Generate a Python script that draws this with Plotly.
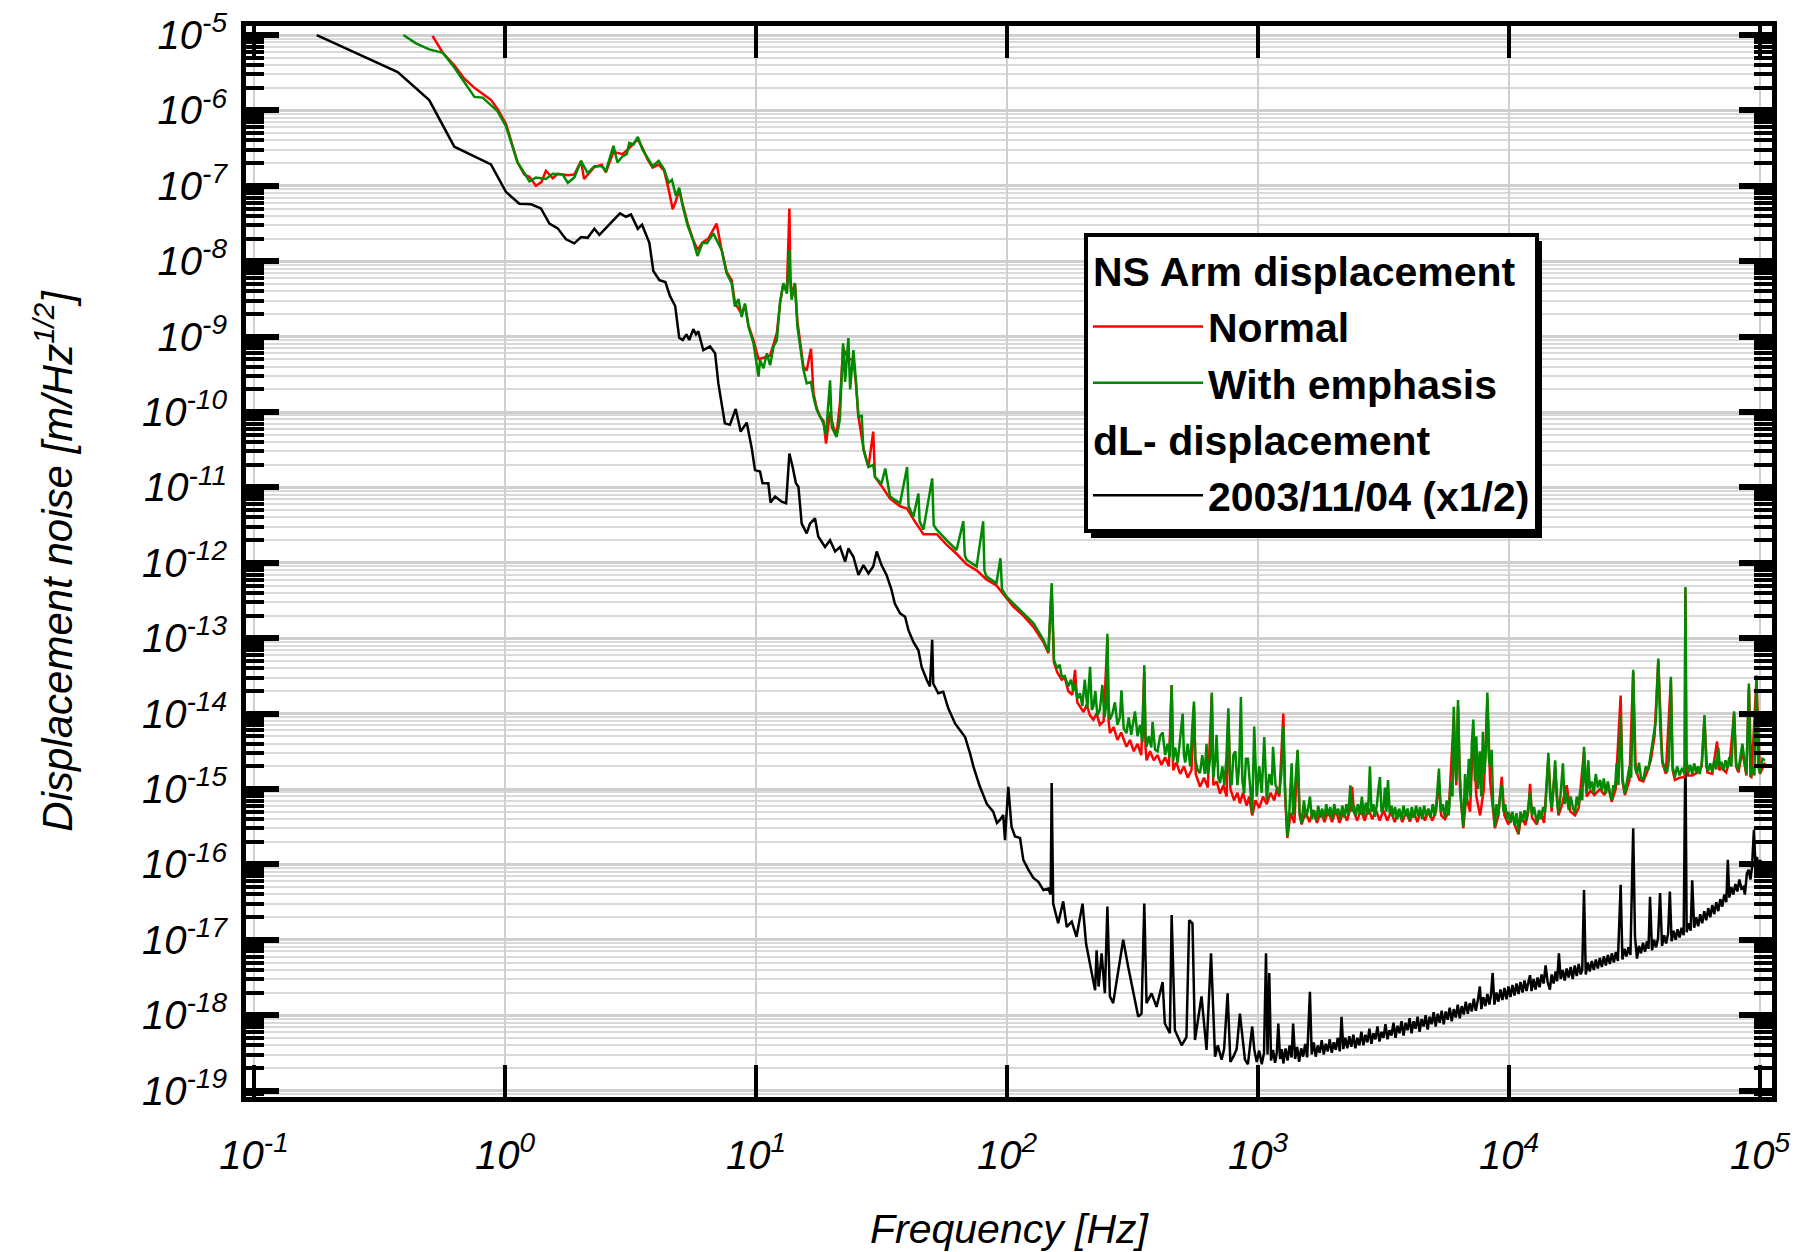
import plotly.graph_objects as go

# ---------------- data: (log10 frequency [Hz], log10 displacement) ----------------
# dL- displacement 2003/11/04 (x1/2)
black_points = [
    (-0.75, -5.0), (-0.4275, -5.49), (-0.302, -5.862), (-0.202, -6.481), (-0.056, -6.715),
    (0.004, -7.082), (0.057, -7.237), (0.104, -7.245), (0.143, -7.30), (0.177, -7.50),
    (0.21, -7.564), (0.243, -7.71), (0.276, -7.763), (0.303, -7.68), (0.329, -7.69),
    (0.356, -7.57), (0.376, -7.65), (0.409, -7.53), (0.458, -7.365), (0.482, -7.41),
    (0.502, -7.38), (0.529, -7.57), (0.546, -7.515), (0.575, -7.755), (0.591, -8.13),
    (0.615, -8.25), (0.639, -8.276), (0.657, -8.46), (0.678, -8.594), (0.694, -9.015),
    (0.708, -9.045), (0.723, -8.97), (0.734, -9.045), (0.750, -8.90), (0.761, -8.97),
    (0.770, -8.93), (0.79, -9.18), (0.817, -9.13), (0.837, -9.22), (0.85, -9.62),
    (0.876, -10.15), (0.896, -10.17), (0.919, -9.96), (0.939, -10.26), (0.963, -10.14),
    (0.983, -10.48), (0.996, -10.77), (1.016, -10.79), (1.026, -10.945), (1.049, -10.945),
    (1.058, -11.2), (1.076, -11.12), (1.102, -11.19), (1.12, -11.21), (1.133, -10.55),
    (1.146, -10.73), (1.159, -10.945), (1.169, -10.99), (1.182, -11.48), (1.202, -11.61),
    (1.215, -11.48), (1.235, -11.41), (1.248, -11.65), (1.275, -11.79), (1.295, -11.70),
    (1.315, -11.85), (1.335, -11.79), (1.355, -11.985), (1.368, -11.81), (1.388, -11.92),
    (1.408, -12.16), (1.428, -12.03), (1.448, -12.14), (1.467, -12.05), (1.481, -11.85),
    (1.50, -12.03), (1.52, -12.16), (1.54, -12.36), (1.553, -12.54), (1.574, -12.67),
    (1.594, -12.715), (1.607, -12.89), (1.627, -13.05), (1.647, -13.16), (1.66, -13.38),
    (1.68, -13.55), (1.693, -13.64), (1.702, -13.02), (1.706, -13.6), (1.726, -13.73),
    (1.746, -13.71), (1.766, -13.93), (1.793, -14.13), (1.813, -14.22), (1.833, -14.31),
    (1.853, -14.53), (1.866, -14.70), (1.89, -14.95), (1.92, -15.2), (1.945, -15.3),
    (1.96, -15.45), (1.972, -15.41), (1.985, -15.345), (1.992, -15.68), (2.005, -14.97),
    (2.018, -15.5), (2.032, -15.63), (2.052, -15.65), (2.065, -15.94), (2.085, -16.07),
    (2.105, -16.18), (2.125, -16.23), (2.145, -16.34), (2.165, -16.32), (2.174, -16.40),
    (2.178, -14.92), (2.184, -16.52), (2.204, -16.78), (2.224, -16.49), (2.238, -16.83),
    (2.258, -16.76), (2.277, -16.96), (2.301, -16.52), (2.315, -17.05), (2.331, -17.34),
    (2.351, -17.67), (2.357, -17.14), (2.365, -17.62), (2.377, -17.18), (2.39, -17.71),
    (2.40, -16.56), (2.41, -17.75), (2.423, -17.84), (2.443, -17.40), (2.463, -17.0),
    (2.483, -17.36), (2.503, -17.71), (2.523, -18.02), (2.536, -17.98), (2.547, -16.52),
    (2.556, -17.84), (2.576, -17.71), (2.596, -17.89), (2.62, -17.56), (2.629, -18.11),
    (2.649, -18.24), (2.656, -16.67), (2.669, -18.20), (2.696, -18.40), (2.715, -18.29),
    (2.726, -16.74), (2.739, -16.78), (2.749, -18.33), (2.775, -17.75), (2.795, -18.46),
    (2.813, -17.18), (2.829, -18.55), (2.84, -18.40), (2.855, -18.59), (2.865, -18.45),
    (2.879, -17.71), (2.89, -18.62), (2.902, -18.55), (2.915, -18.45), (2.928, -17.98),
    (2.94, -18.40), (2.948, -18.59), (2.96, -18.65), (2.977, -18.15), (2.985, -18.45),
    (2.995, -18.62), (3.005, -18.47), (3.015, -18.65), (3.024, -18.50), (3.032, -17.18),
    (3.038, -18.52), (3.045, -17.44), (3.052, -18.60), (3.06, -18.46), (3.068, -18.63),
    (3.075, -18.50), (3.081, -18.11), (3.088, -18.58), (3.095, -18.45), (3.101, -18.64),
    (3.11, -18.44), (3.118, -18.60), (3.126, -18.40), (3.134, -18.56), (3.14, -18.11),
    (3.148, -18.58), (3.156, -18.42), (3.164, -18.62), (3.172, -18.44), (3.18, -18.55),
    (3.188, -18.38), (3.196, -18.56), (3.207, -17.69), (3.214, -18.52), (3.222, -18.36),
    (3.23, -18.55), (3.238, -18.40), (3.246, -18.50), (3.254, -18.33), (3.262, -18.52),
    (3.27, -18.38), (3.278, -18.48), (3.286, -18.32), (3.294, -18.50), (3.302, -18.36),
    (3.31, -18.46), (3.318, -18.30), (3.326, -18.48), (3.333, -18.02), (3.34, -18.45),
    (3.348, -18.30), (3.356, -18.44), (3.364, -18.28), (3.372, -18.42), (3.38, -18.26),
    (3.388, -18.44), (3.396, -18.30), (3.404, -18.40), (3.412, -18.22), (3.42, -18.40),
    (3.428, -18.26), (3.436, -18.36), (3.444, -18.18), (3.452, -18.38), (3.46, -18.24),
    (3.468, -18.32), (3.476, -18.15), (3.484, -18.35), (3.492, -18.22), (3.50, -18.30),
    (3.508, -18.12), (3.516, -18.32), (3.524, -18.20), (3.532, -18.27), (3.54, -18.10),
    (3.548, -18.30), (3.556, -18.14), (3.564, -18.24), (3.572, -18.08), (3.58, -18.27),
    (3.588, -18.10), (3.596, -18.20), (3.604, -18.04), (3.612, -18.24), (3.62, -18.08),
    (3.628, -18.18), (3.636, -18.02), (3.644, -18.22), (3.652, -18.05), (3.66, -18.15),
    (3.668, -18.00), (3.676, -18.19), (3.684, -18.02), (3.692, -18.12), (3.70, -17.96),
    (3.708, -18.15), (3.716, -17.98), (3.724, -18.10), (3.732, -17.94), (3.74, -18.12),
    (3.748, -17.95), (3.756, -18.06), (3.764, -17.90), (3.772, -18.08), (3.78, -17.92),
    (3.788, -18.03), (3.796, -17.86), (3.804, -18.04), (3.812, -17.88), (3.82, -17.99),
    (3.828, -17.82), (3.836, -17.98), (3.844, -17.84), (3.852, -17.95), (3.86, -17.78),
    (3.868, -17.94), (3.876, -17.80), (3.884, -17.62), (3.89, -17.92), (3.898, -17.76),
    (3.906, -17.88), (3.914, -17.72), (3.922, -17.86), (3.928, -17.74), (3.935, -17.44),
    (3.942, -17.86), (3.95, -17.70), (3.958, -17.82), (3.966, -17.66), (3.974, -17.80),
    (3.982, -17.64), (3.99, -17.79), (3.998, -17.62), (4.006, -17.76), (4.014, -17.60),
    (4.022, -17.74), (4.03, -17.58), (4.038, -17.72), (4.046, -17.56), (4.054, -17.70),
    (4.062, -17.54), (4.07, -17.68), (4.078, -17.55), (4.084, -17.47), (4.09, -17.68),
    (4.098, -17.52), (4.106, -17.66), (4.114, -17.50), (4.122, -17.63), (4.13, -17.46),
    (4.138, -17.58), (4.146, -17.34), (4.154, -17.56), (4.163, -17.66), (4.17, -17.46),
    (4.178, -17.58), (4.186, -17.42), (4.192, -17.55), (4.199, -17.18), (4.206, -17.52),
    (4.214, -17.40), (4.222, -17.54), (4.23, -17.38), (4.238, -17.50), (4.246, -17.36),
    (4.254, -17.52), (4.262, -17.34), (4.27, -17.48), (4.278, -17.32), (4.286, -17.46),
    (4.292, -17.40), (4.299, -16.34), (4.306, -17.46), (4.314, -17.30), (4.322, -17.42),
    (4.33, -17.28), (4.338, -17.40), (4.346, -17.26), (4.354, -17.38), (4.362, -17.24),
    (4.37, -17.36), (4.378, -17.22), (4.386, -17.34), (4.394, -17.20), (4.402, -17.32),
    (4.41, -17.18), (4.418, -17.30), (4.426, -17.16), (4.434, -17.28), (4.445, -16.27),
    (4.452, -17.26), (4.46, -17.12), (4.468, -17.22), (4.476, -17.10), (4.484, -17.20),
    (4.495, -15.52), (4.502, -16.95), (4.51, -17.25), (4.518, -17.08), (4.526, -17.18),
    (4.534, -17.04), (4.542, -17.16), (4.55, -17.02), (4.556, -17.12), (4.562, -16.43),
    (4.57, -17.14), (4.578, -17.00), (4.586, -17.10), (4.594, -16.98), (4.602, -16.38),
    (4.61, -17.08), (4.618, -16.94), (4.626, -17.05), (4.634, -16.92), (4.641, -16.36),
    (4.648, -17.02), (4.656, -16.88), (4.664, -17.00), (4.672, -16.86), (4.68, -16.97),
    (4.688, -16.84), (4.696, -16.94), (4.703, -14.42), (4.708, -16.90), (4.716, -16.78),
    (4.724, -16.88), (4.73, -16.21), (4.738, -16.84), (4.746, -16.70), (4.754, -16.82),
    (4.762, -16.66), (4.77, -16.78), (4.778, -16.62), (4.786, -16.74), (4.794, -16.58),
    (4.802, -16.70), (4.81, -16.54), (4.818, -16.66), (4.826, -16.50), (4.834, -16.62),
    (4.842, -16.46), (4.85, -16.56), (4.858, -16.40), (4.866, -16.50), (4.872, -15.94),
    (4.878, -16.44), (4.886, -16.30), (4.894, -16.40), (4.902, -16.26), (4.91, -16.36),
    (4.918, -16.20), (4.926, -16.32), (4.934, -16.30), (4.94, -16.40), (4.948, -16.12),
    (4.955, -16.07), (4.962, -16.20), (4.968, -16.05), (4.976, -15.54), (4.982, -16.0),
    (4.988, -15.90), (4.994, -16.02), (5.002, -15.94), (5.008, -16.10), (5.013, -16.0),
]

# NS Arm displacement - Normal
normal_points = [
    (-0.289, -5.01), (-0.248, -5.235), (-0.202, -5.40), (-0.162, -5.58), (-0.122, -5.70),
    (-0.089, -5.78), (-0.056, -5.86), (-0.03, -5.98), (0.004, -6.18), (0.05, -6.69),
    (0.077, -6.85), (0.097, -6.88), (0.123, -7.0), (0.145, -6.95), (0.163, -6.80),
    (0.19, -6.90), (0.21, -6.84), (0.25, -6.86), (0.276, -6.85), (0.303, -6.67),
    (0.315, -6.91), (0.356, -6.75), (0.385, -6.72), (0.402, -6.82), (0.432, -6.55),
    (0.468, -6.58), (0.495, -6.50), (0.529, -6.38), (0.548, -6.50), (0.568, -6.65),
    (0.588, -6.76), (0.612, -6.72), (0.634, -6.80), (0.652, -7.05), (0.668, -7.31),
    (0.681, -7.20), (0.694, -7.05), (0.708, -7.25), (0.728, -7.50), (0.748, -7.70),
    (0.767, -7.85), (0.787, -7.75), (0.81, -7.70), (0.843, -7.50), (0.86, -7.80),
    (0.883, -8.14), (0.903, -8.25), (0.916, -8.55), (0.943, -8.70), (0.956, -8.58),
    (0.97, -8.85), (0.99, -9.05), (1.01, -9.30), (1.03, -9.28), (1.056, -9.25),
    (1.07, -9.10), (1.083, -8.95), (1.096, -8.55), (1.109, -8.30), (1.123, -8.40),
    (1.133, -7.30), (1.137, -8.2), (1.142, -8.45), (1.155, -8.30), (1.165, -8.80),
    (1.175, -9.05), (1.189, -9.40), (1.202, -9.45), (1.219, -9.16), (1.229, -9.75),
    (1.242, -9.95), (1.255, -10.06), (1.269, -10.12), (1.279, -10.42), (1.295, -10.0),
    (1.308, -10.20), (1.321, -10.30), (1.334, -9.9), (1.347, -9.15), (1.368, -9.30),
    (1.388, -9.30), (1.398, -9.62), (1.408, -10.06), (1.428, -10.48), (1.448, -10.73),
    (1.467, -10.26), (1.474, -10.86), (1.50, -10.98), (1.534, -11.15), (1.574, -11.25),
    (1.602, -11.28), (1.627, -11.42), (1.667, -11.62), (1.72, -11.62), (1.759, -11.76),
    (1.799, -11.88), (1.839, -12.02), (1.879, -12.10), (1.918, -12.22), (1.958, -12.30),
    (1.998, -12.47), (2.025, -12.58), (2.065, -12.70), (2.105, -12.85), (2.145, -13.05),
    (2.165, -13.20), (2.178, -12.35), (2.187, -13.32), (2.2, -13.45), (2.218, -13.55),
    (2.23, -13.52), (2.244, -13.70), (2.26, -13.75), (2.271, -13.42), (2.28, -13.85),
    (2.291, -13.91), (2.305, -13.98), (2.318, -13.88), (2.33, -14.02), (2.344, -14.08),
    (2.357, -14.0), (2.37, -14.15), (2.385, -14.10), (2.40, -13.0), (2.405, -14.10),
    (2.41, -14.26), (2.425, -14.18), (2.44, -14.35), (2.455, -14.25), (2.476, -14.44),
    (2.49, -14.35), (2.505, -14.50), (2.52, -14.40), (2.535, -14.55), (2.547, -13.45),
    (2.552, -14.45), (2.556, -14.62), (2.57, -14.50), (2.585, -14.62), (2.60, -14.55),
    (2.615, -14.68), (2.63, -14.58), (2.645, -14.70), (2.656, -13.62), (2.662, -14.75),
    (2.675, -14.65), (2.69, -14.80), (2.705, -14.70), (2.72, -14.85), (2.735, -14.75),
    (2.745, -13.90), (2.752, -14.80), (2.769, -14.97), (2.785, -14.85), (2.80, -14.98),
    (2.816, -13.75), (2.822, -14.95), (2.835, -14.90), (2.849, -15.06), (2.862, -14.95),
    (2.875, -15.10), (2.882, -14.00), (2.89, -15.00), (2.905, -15.15), (2.918, -15.05),
    (2.928, -15.19), (2.94, -15.05), (2.955, -15.22), (2.965, -15.10), (2.977, -15.35),
    (2.99, -15.15), (3.005, -15.25), (3.02, -15.10), (3.035, -15.20), (3.05, -15.05),
    (3.065, -15.15), (3.075, -15.00), (3.085, -15.10), (3.101, -14.0), (3.108, -15.10),
    (3.117, -15.65), (3.13, -15.32), (3.145, -15.45), (3.158, -14.50), (3.166, -15.35),
    (3.174, -15.47), (3.19, -15.30), (3.205, -15.44), (3.22, -15.28), (3.235, -15.45),
    (3.25, -15.30), (3.265, -15.44), (3.28, -15.28), (3.295, -15.44), (3.31, -15.28),
    (3.325, -15.45), (3.34, -15.30), (3.355, -15.42), (3.368, -15.25), (3.375, -14.97),
    (3.382, -15.30), (3.395, -15.42), (3.41, -15.28), (3.425, -15.42), (3.44, -15.26),
    (3.455, -15.40), (3.47, -15.28), (3.485, -15.42), (3.5, -15.28), (3.515, -15.42),
    (3.53, -15.30), (3.545, -15.44), (3.56, -15.28), (3.575, -15.44), (3.59, -15.30),
    (3.605, -15.43), (3.62, -15.30), (3.635, -15.44), (3.65, -15.28), (3.665, -15.42),
    (3.679, -15.30), (3.695, -15.42), (3.71, -15.28), (3.721, -14.90), (3.73, -15.35),
    (3.745, -15.40), (3.76, -15.30), (3.78, -14.05), (3.79, -14.95), (3.797, -13.90),
    (3.805, -15.0), (3.818, -15.52), (3.83, -15.1), (3.845, -15.30), (3.858, -14.20),
    (3.87, -15.1), (3.885, -15.35), (3.9, -15.0), (3.914, -13.80), (3.925, -14.9),
    (3.944, -15.52), (3.958, -15.35), (3.971, -14.84), (3.982, -15.35), (3.998, -15.47),
    (4.012, -15.32), (4.025, -15.50), (4.038, -15.60), (4.05, -15.34), (4.065, -15.48),
    (4.077, -15.30), (4.084, -14.93), (4.092, -15.38), (4.111, -15.47), (4.125, -15.30),
    (4.14, -15.45), (4.157, -14.60), (4.17, -15.30), (4.184, -14.70), (4.197, -15.35),
    (4.212, -15.20), (4.23, -14.95), (4.245, -15.30), (4.263, -15.35), (4.278, -15.25),
    (4.299, -14.50), (4.31, -15.10), (4.325, -15.02), (4.34, -15.08), (4.363, -15.00),
    (4.38, -15.08), (4.395, -14.95), (4.409, -15.17), (4.425, -15.00), (4.445, -13.76),
    (4.452, -14.90), (4.462, -15.08), (4.48, -14.88), (4.495, -13.45), (4.505, -14.75),
    (4.52, -14.88), (4.535, -14.90), (4.55, -14.78), (4.565, -14.62), (4.58, -14.30),
    (4.595, -13.30), (4.605, -14.30), (4.611, -14.65), (4.625, -14.80), (4.645, -13.55),
    (4.652, -14.75), (4.661, -14.88), (4.68, -14.85), (4.70, -14.84), (4.703, -12.35),
    (4.707, -14.65), (4.714, -14.82), (4.73, -14.82), (4.753, -14.78), (4.768, -14.70),
    (4.779, -14.10), (4.79, -14.78), (4.81, -14.80), (4.829, -14.37), (4.838, -14.75),
    (4.847, -14.72), (4.865, -14.78), (4.88, -14.62), (4.897, -14.00), (4.905, -14.70),
    (4.914, -14.78), (4.93, -14.50), (4.946, -14.82), (4.956, -13.65), (4.966, -14.86),
    (4.986, -13.55), (5.0, -14.80), (5.02, -14.65),
]

# NS Arm displacement - With emphasis
emphasis_points = [
    (-0.405, -5.0), (-0.355, -5.11), (-0.302, -5.19), (-0.248, -5.235), (-0.202, -5.43),
    (-0.162, -5.63), (-0.122, -5.82), (-0.089, -5.83), (-0.03, -6.01), (0.004, -6.21),
    (0.05, -6.69), (0.077, -6.83), (0.097, -6.94), (0.123, -6.89), (0.163, -6.91),
    (0.19, -6.84), (0.23, -6.85), (0.25, -6.96), (0.276, -6.89), (0.303, -6.67),
    (0.329, -6.83), (0.356, -6.74), (0.385, -6.74), (0.402, -6.80), (0.415, -6.65),
    (0.432, -6.47), (0.448, -6.69), (0.468, -6.61), (0.485, -6.58), (0.495, -6.43),
    (0.512, -6.45), (0.529, -6.35), (0.548, -6.52), (0.568, -6.63), (0.588, -6.74),
    (0.612, -6.67), (0.634, -6.78), (0.652, -6.96), (0.665, -6.92), (0.681, -7.135),
    (0.694, -7.025), (0.708, -7.27), (0.728, -7.53), (0.748, -7.71), (0.767, -7.93),
    (0.787, -7.755), (0.805, -7.76), (0.83, -7.63), (0.853, -7.80), (0.863, -7.85),
    (0.883, -8.16), (0.903, -8.29), (0.916, -8.60), (0.93, -8.50), (0.943, -8.74),
    (0.956, -8.56), (0.97, -8.87), (0.99, -9.09), (1.01, -9.53), (1.016, -9.31),
    (1.03, -9.42), (1.043, -9.22), (1.056, -9.38), (1.07, -9.13), (1.083, -9.05),
    (1.096, -8.54), (1.109, -8.29), (1.123, -8.43), (1.133, -7.85), (1.137, -8.3),
    (1.142, -8.51), (1.155, -8.29), (1.165, -8.87), (1.175, -9.09), (1.189, -9.44),
    (1.202, -9.62), (1.219, -9.60), (1.229, -9.80), (1.242, -9.97), (1.255, -10.06),
    (1.269, -10.15), (1.279, -10.30), (1.295, -9.58), (1.302, -10.2), (1.308, -10.24),
    (1.321, -10.33), (1.334, -10.1), (1.347, -9.09), (1.355, -9.6), (1.368, -9.02),
    (1.375, -9.7), (1.388, -9.18), (1.398, -9.58), (1.408, -10.06), (1.421, -10.05),
    (1.428, -10.50), (1.448, -10.73), (1.467, -10.70), (1.474, -10.86), (1.50, -10.95),
    (1.515, -10.75), (1.534, -11.12), (1.574, -11.21), (1.602, -10.73), (1.608, -11.25),
    (1.627, -11.39), (1.647, -11.08), (1.652, -11.45), (1.667, -11.56), (1.702, -10.88),
    (1.708, -11.5), (1.72, -11.56), (1.759, -11.70), (1.799, -11.83), (1.826, -11.45),
    (1.832, -11.9), (1.839, -11.96), (1.879, -12.05), (1.905, -11.45), (1.91, -12.1),
    (1.918, -12.18), (1.958, -12.27), (1.974, -11.94), (1.98, -12.35), (1.998, -12.45),
    (2.025, -12.54), (2.065, -12.67), (2.105, -12.80), (2.145, -13.02), (2.165, -13.18),
    (2.178, -12.27), (2.187, -13.29), (2.2, -13.40), (2.21, -13.35), (2.218, -13.51),
    (2.23, -13.50), (2.244, -13.64), (2.255, -13.55), (2.265, -13.70), (2.271, -13.60),
    (2.28, -13.80), (2.291, -13.73), (2.30, -13.90), (2.31, -13.55), (2.32, -13.92),
    (2.331, -13.38), (2.338, -13.95), (2.344, -13.91), (2.352, -13.70), (2.36, -14.02),
    (2.37, -13.95), (2.38, -13.62), (2.388, -14.05), (2.395, -13.90), (2.40, -12.94),
    (2.405, -13.90), (2.41, -14.08), (2.42, -14.00), (2.43, -13.85), (2.44, -14.15),
    (2.45, -14.05), (2.456, -13.69), (2.465, -14.20), (2.476, -14.26), (2.485, -14.05),
    (2.495, -14.28), (2.51, -13.97), (2.52, -14.30), (2.53, -14.15), (2.54, -14.38),
    (2.547, -13.36), (2.552, -14.30), (2.556, -14.44), (2.565, -14.30), (2.575, -14.45),
    (2.58, -14.11), (2.59, -14.48), (2.60, -14.50), (2.61, -14.30), (2.62, -14.25),
    (2.63, -14.55), (2.64, -14.40), (2.648, -14.58), (2.656, -13.62), (2.662, -14.62),
    (2.67, -14.45), (2.68, -14.65), (2.69, -14.30), (2.70, -14.0), (2.705, -14.55),
    (2.71, -14.65), (2.72, -14.40), (2.73, -14.70), (2.738, -14.20), (2.745, -13.84),
    (2.75, -14.60), (2.76, -14.75), (2.769, -14.79), (2.778, -14.55), (2.788, -14.80),
    (2.795, -14.40), (2.80, -14.80), (2.81, -14.60), (2.816, -13.72), (2.822, -14.85),
    (2.83, -14.60), (2.835, -14.28), (2.842, -14.85), (2.849, -14.92), (2.858, -14.70),
    (2.866, -14.95), (2.874, -14.60), (2.882, -13.93), (2.888, -14.80), (2.895, -14.95),
    (2.902, -14.55), (2.91, -14.50), (2.918, -14.95), (2.925, -14.70), (2.932, -13.78),
    (2.938, -14.90), (2.945, -15.06), (2.952, -14.60), (2.96, -14.60), (2.968, -14.95),
    (2.977, -15.32), (2.985, -14.17), (2.99, -14.80), (2.995, -15.10), (3.005, -14.70),
    (3.015, -15.05), (3.025, -14.31), (3.03, -14.90), (3.035, -15.15), (3.045, -14.80),
    (3.055, -14.95), (3.06, -14.44), (3.07, -14.95), (3.078, -15.00), (3.085, -15.06),
    (3.093, -14.80), (3.101, -14.17), (3.108, -15.0), (3.117, -15.63), (3.125, -15.30),
    (3.134, -14.66), (3.14, -15.35), (3.145, -15.10), (3.158, -14.48), (3.165, -15.30),
    (3.174, -15.45), (3.183, -15.15), (3.192, -15.38), (3.2, -15.25), (3.207, -15.10),
    (3.215, -15.40), (3.224, -15.28), (3.232, -15.42), (3.24, -15.22), (3.248, -15.38),
    (3.256, -15.26), (3.264, -15.40), (3.272, -15.20), (3.28, -15.36), (3.288, -15.24),
    (3.296, -15.40), (3.304, -15.20), (3.312, -15.34), (3.32, -15.26), (3.328, -15.40),
    (3.336, -15.22), (3.345, -15.38), (3.352, -15.20), (3.36, -15.35), (3.368, -14.95),
    (3.375, -15.30), (3.383, -15.22), (3.39, -15.36), (3.398, -15.20), (3.406, -15.34),
    (3.414, -15.10), (3.422, -15.36), (3.43, -15.18), (3.438, -15.34), (3.446, -14.70),
    (3.452, -15.30), (3.46, -15.20), (3.466, -15.37), (3.474, -15.20), (3.48, -15.00),
    (3.486, -14.84), (3.492, -15.30), (3.50, -15.25), (3.506, -14.98), (3.512, -15.30),
    (3.518, -14.88), (3.525, -15.32), (3.532, -15.22), (3.538, -15.37), (3.546, -15.24),
    (3.555, -15.40), (3.563, -15.26), (3.572, -15.40), (3.58, -15.22), (3.588, -15.36),
    (3.596, -15.26), (3.605, -15.41), (3.613, -15.24), (3.622, -15.38), (3.63, -15.22),
    (3.638, -15.36), (3.646, -15.24), (3.654, -15.40), (3.662, -15.22), (3.67, -15.36),
    (3.679, -15.26), (3.688, -15.38), (3.696, -15.20), (3.705, -15.36), (3.713, -15.10),
    (3.721, -14.73), (3.728, -15.30), (3.736, -15.20), (3.745, -15.38), (3.752, -15.15),
    (3.76, -15.35), (3.768, -14.90), (3.775, -15.10), (3.78, -13.91), (3.785, -14.60),
    (3.79, -14.90), (3.797, -13.82), (3.803, -14.70), (3.81, -15.20), (3.818, -15.50),
    (3.825, -14.80), (3.832, -15.20), (3.84, -14.60), (3.846, -15.10), (3.852, -14.40),
    (3.858, -14.08), (3.864, -14.90), (3.87, -14.30), (3.877, -15.00), (3.884, -14.50),
    (3.89, -15.10), (3.896, -14.24), (3.902, -14.80), (3.908, -14.50), (3.914, -13.72),
    (3.92, -14.60), (3.925, -14.70), (3.931, -14.48), (3.937, -15.20), (3.944, -15.50),
    (3.95, -15.20), (3.957, -15.36), (3.964, -15.10), (3.971, -14.95), (3.978, -15.30),
    (3.985, -15.20), (3.992, -15.40), (3.998, -15.30), (4.006, -15.45), (4.014, -15.30),
    (4.022, -15.48), (4.03, -15.32), (4.038, -15.59), (4.046, -15.30), (4.054, -15.44),
    (4.062, -15.28), (4.07, -15.42), (4.077, -15.26), (4.084, -15.05), (4.092, -15.35),
    (4.1, -15.24), (4.111, -15.45), (4.12, -15.28), (4.128, -15.40), (4.136, -15.24),
    (4.144, -15.30), (4.15, -15.00), (4.157, -14.52), (4.164, -15.10), (4.17, -15.25),
    (4.177, -15.00), (4.184, -14.62), (4.19, -15.10), (4.197, -15.32), (4.205, -15.10),
    (4.215, -14.66), (4.222, -15.20), (4.23, -15.05), (4.238, -15.28), (4.246, -15.10),
    (4.255, -15.25), (4.263, -15.32), (4.27, -15.10), (4.278, -15.22), (4.285, -15.00),
    (4.292, -15.15), (4.299, -14.44), (4.305, -14.90), (4.31, -15.05), (4.316, -14.62),
    (4.322, -15.00), (4.33, -14.90), (4.338, -15.05), (4.346, -14.80), (4.354, -14.98),
    (4.363, -14.88), (4.37, -15.02), (4.378, -14.86), (4.386, -15.06), (4.394, -14.90),
    (4.402, -15.05), (4.409, -15.15), (4.416, -14.95), (4.422, -15.02), (4.429, -14.66),
    (4.436, -14.95), (4.445, -14.02), (4.452, -14.85), (4.462, -15.06), (4.47, -14.90),
    (4.48, -14.70), (4.487, -14.85), (4.495, -13.42), (4.502, -14.70), (4.51, -14.80),
    (4.518, -14.65), (4.526, -14.85), (4.535, -14.88), (4.545, -14.70), (4.555, -14.75),
    (4.565, -14.55), (4.575, -14.35), (4.585, -14.10), (4.595, -13.27), (4.603, -14.20),
    (4.611, -14.62), (4.62, -14.72), (4.63, -14.78), (4.638, -14.60), (4.645, -13.51),
    (4.652, -14.70), (4.661, -14.84), (4.67, -14.70), (4.68, -14.82), (4.69, -14.72),
    (4.70, -14.80), (4.703, -12.32), (4.707, -14.60), (4.714, -14.79), (4.722, -14.68),
    (4.73, -14.80), (4.738, -14.66), (4.746, -14.78), (4.753, -14.70), (4.76, -14.80),
    (4.768, -14.66), (4.779, -14.02), (4.786, -14.70), (4.794, -14.76), (4.802, -14.66),
    (4.81, -14.78), (4.818, -14.62), (4.826, -14.74), (4.834, -14.45), (4.84, -14.70),
    (4.847, -14.64), (4.855, -14.75), (4.863, -14.62), (4.87, -14.72), (4.878, -14.58),
    (4.886, -14.70), (4.897, -13.97), (4.905, -14.66), (4.914, -14.75), (4.922, -14.55),
    (4.93, -14.40), (4.938, -14.62), (4.946, -14.80), (4.956, -13.60), (4.962, -14.84),
    (4.97, -14.70), (4.978, -14.82), (4.986, -13.49), (4.993, -14.70), (5.0, -14.79),
    (5.01, -14.60), (5.02, -14.62),
]

x_tick_vals = [0.1, 1, 10, 100, 1000, 10000, 100000]
x_tick_text = ["10<sup>-1</sup>", "10<sup>0</sup>", "10<sup>1</sup>", "10<sup>2</sup>",
               "10<sup>3</sup>", "10<sup>4</sup>", "10<sup>5</sup>"]
y_tick_vals = [1e-19, 1e-18, 1e-17, 1e-16, 1e-15, 1e-14, 1e-13, 1e-12, 1e-11, 1e-10,
               1e-9, 1e-8, 1e-7, 1e-6, 1e-5]
y_tick_text = ["10<sup>-19</sup>", "10<sup>-18</sup>", "10<sup>-17</sup>", "10<sup>-16</sup>",
               "10<sup>-15</sup>", "10<sup>-14</sup>", "10<sup>-13</sup>", "10<sup>-12</sup>",
               "10<sup>-11</sup>", "10<sup>-10</sup>", "10<sup>-9</sup>", "10<sup>-8</sup>",
               "10<sup>-7</sup>", "10<sup>-6</sup>", "10<sup>-5</sup>"]


def xs(points):
    return [10 ** p[0] for p in points]


def ys(points):
    return [10 ** p[1] for p in points]


FONT = "Liberation Sans, Arial, Helvetica, sans-serif"
W, H = 1809, 1252
ML, MR, MT, MB = 246, 37, 26, 155
PW, PH = W - ML - MR, H - MT - MB

fig = go.Figure()
fig.add_trace(go.Scatter(x=xs(black_points), y=ys(black_points), mode="lines",
                         name="2003/11/04 (x1/2)", line=dict(color="#000000", width=2.5),
                         legendgroup="dl", legendgrouptitle=dict(text="dL- displacement"),
                         legendrank=3))
fig.add_trace(go.Scatter(x=xs(normal_points), y=ys(normal_points), mode="lines",
                         name="Normal", line=dict(color="#ff0000", width=2.5),
                         legendgroup="ns", legendgrouptitle=dict(text="NS Arm displacement"),
                         legendrank=1))
fig.add_trace(go.Scatter(x=xs(emphasis_points), y=ys(emphasis_points), mode="lines",
                         name="With emphasis", line=dict(color="#008a00", width=2.5),
                         legendgroup="ns", legendrank=2))

minor_y = [k * 10.0 ** n for n in range(-20, -4) for k in range(2, 10)]

tickfont = dict(family=FONT, size=40, color="black", style="italic")
fig.update_xaxes(type="log", range=[-1.032, 5.048], tickmode="array",
                 tickvals=x_tick_vals, ticktext=x_tick_text, tickfont=tickfont,
                 ticks="inside", ticklen=32, tickwidth=4, tickcolor="black",
                 showline=True, linewidth=5, linecolor="black", mirror="ticks",
                 showgrid=True, gridcolor="#cfcfcf", gridwidth=2,
                 ticklabelstandoff=19, zeroline=False,
                 title=dict(text="Frequency [Hz]", standoff=40,
                            font=dict(family=FONT, size=41, color="black", style="italic")))
fig.update_yaxes(type="log", range=[-19.085, -4.88], tickmode="array",
                 tickvals=y_tick_vals, ticktext=y_tick_text, tickfont=tickfont,
                 ticks="inside", ticklen=33, tickwidth=6, tickcolor="black",
                 showline=True, linewidth=5, linecolor="black", mirror="ticks",
                 showgrid=True, gridcolor="#cfcfcf", gridwidth=2.5,
                 ticklabelstandoff=6, zeroline=False,
                 minor=dict(tickmode="array", tickvals=minor_y, ticks="inside", ticklen=18,
                            tickwidth=4, tickcolor="black", showgrid=True,
                            gridcolor="#d9d9d9", gridwidth=1.5),
                 title=dict(text="Displacement noise [m/Hz<sup>1/2</sup>]", standoff=58,
                            font=dict(family=FONT, size=42, color="black", style="italic")))


def px_x(X):
    return (X - ML) / PW


def px_y(Y):
    return (H - MB - Y) / PH


# legend drop shadow
fig.add_shape(type="rect", xref="paper", yref="paper", layer="above",
              x0=px_x(1091), x1=px_x(1542), y0=px_y(538), y1=px_y(241),
              fillcolor="black", line=dict(width=0))

fig.update_layout(
    width=W, height=H,
    margin=dict(l=ML, r=MR, t=MT, b=MB, autoexpand=False),
    paper_bgcolor="white", plot_bgcolor="white",
    font=dict(family=FONT, color="black"),
    legend=dict(x=px_x(1084), y=px_y(233), xanchor="left", yanchor="top",
                bgcolor="white", bordercolor="black", borderwidth=4,
                font=dict(family=FONT, size=41, color="black", weight="bold"),
                grouptitlefont=dict(family=FONT, size=41, color="black", weight="bold"),
                tracegroupgap=0, itemwidth=110, traceorder="grouped"),
    showlegend=True,
)

fig.write_html("out.html")
